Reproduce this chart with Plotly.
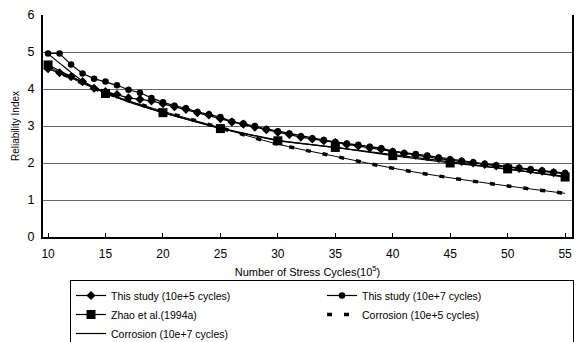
import plotly.graph_objects as go

x_study = list(range(10, 56))
study_1e5 = [4.55, 4.44, 4.33, 4.20, 4.02, 3.93, 3.85, 3.76, 3.72, 3.68,
             3.60, 3.52, 3.45, 3.36, 3.30, 3.20, 3.11, 3.05, 2.97, 2.90,
             2.83, 2.77, 2.70, 2.65, 2.60, 2.55, 2.50, 2.46, 2.41, 2.37,
             2.30, 2.25, 2.21, 2.17, 2.12, 2.08, 2.04, 2.00, 1.96, 1.92,
             1.88, 1.85, 1.81, 1.78, 1.74, 1.71]
study_1e7 = [4.96, 4.96, 4.66, 4.42, 4.28, 4.20, 4.10, 3.98, 3.90, 3.76,
             3.64, 3.55, 3.48, 3.38, 3.32, 3.24, 3.12, 3.07, 3.00, 2.92,
             2.86, 2.80, 2.72, 2.67, 2.62, 2.57, 2.53, 2.49, 2.44, 2.40,
             2.32, 2.27, 2.24, 2.20, 2.15, 2.10, 2.06, 2.02, 1.98, 1.94,
             1.90, 1.87, 1.83, 1.80, 1.76, 1.73]

x_zhao = [10, 15, 20, 25, 30, 35, 40, 45, 50, 55]
zhao = [4.65, 3.88, 3.36, 2.93, 2.60, 2.42, 2.20, 2.00, 1.84, 1.62]

x_corr = [10, 11, 12, 13, 14, 15, 17, 20, 25, 30, 35, 40, 45, 50, 55]
corr_1e5 = [4.62, 4.45, 4.30, 4.15, 4.02, 3.90, 3.68, 3.40, 2.95, 2.51, 2.18, 1.86, 1.60, 1.38, 1.18]
corr_1e7 = [4.95, 4.70, 4.45, 4.22, 4.05, 3.90, 3.65, 3.36, 2.95, 2.62, 2.42, 2.23, 2.03, 1.83, 1.64]

x_ticks = [10, 15, 20, 25, 30, 35, 40, 45, 50, 55]
y_ticks = [0, 1, 2, 3, 4, 5, 6]

fig = go.Figure()
fig.add_trace(go.Scatter(x=x_study, y=study_1e5, mode="lines+markers",
                         name="This study (10e+5 cycles)",
                         line=dict(color="black", width=1.2),
                         marker=dict(symbol="diamond", size=7, color="black")))
fig.add_trace(go.Scatter(x=x_study, y=study_1e7, mode="lines+markers",
                         name="This study (10e+7 cycles)",
                         line=dict(color="black", width=1.2),
                         marker=dict(symbol="circle", size=6.5, color="black")))
fig.add_trace(go.Scatter(x=x_zhao, y=zhao, mode="lines+markers",
                         name="Zhao et al.(1994a)",
                         line=dict(color="black", width=1.2),
                         marker=dict(symbol="square", size=9, color="black")))
fig.add_trace(go.Scatter(x=x_corr, y=corr_1e5, mode="lines", showlegend=False,
                         line=dict(color="black", width=1, shape="spline"),
                         hoverinfo="skip"))
fig.add_trace(go.Scatter(x=x_corr, y=corr_1e5, mode="lines",
                         name="Corrosion (10e+5 cycles)",
                         line=dict(color="black", width=3.5, dash="5px,12px", shape="spline")))
fig.add_trace(go.Scatter(x=x_corr, y=corr_1e7, mode="lines",
                         name="Corrosion (10e+7 cycles)",
                         line=dict(color="black", width=1.2, shape="spline")))

fig.update_layout(
    width=579, height=342,
    margin=dict(l=43, r=7, t=15, b=105),
    paper_bgcolor="white", plot_bgcolor="white",
    font=dict(family="Arial, Liberation Sans, sans-serif", size=11, color="black"),
    legend=dict(orientation="h", xref="container", yref="container",
                x=70/579, y=(342-280)/342, xanchor="left", yanchor="top",
                bordercolor="black", borderwidth=1, bgcolor="white",
                entrywidth=206, font=dict(size=10.5, family="Arial, Liberation Sans, sans-serif"),
                tracegroupgap=0),
    xaxis=dict(range=[9.56, 55.6], tickvals=x_ticks, showgrid=False, automargin=False,
               showline=True, linecolor="black", linewidth=2,
               ticks="inside", ticklen=4, tickcolor="black", ticklabelstandoff=5,
               tickfont=dict(size=12), zeroline=False,
               title=dict(text="Number of Stress Cycles(10<sup>5</sup>)", font=dict(size=11), standoff=8)),
    yaxis=dict(range=[0, 6], tickvals=y_ticks, showgrid=True, gridcolor="#666666", gridwidth=1,
               showline=True, linecolor="black", linewidth=2, mirror=True, automargin=False,
               ticks="", tickfont=dict(size=12.5), zeroline=False, ticklabelstandoff=4,
               title=dict(text="Reliability Index", font=dict(size=10), standoff=6)),
)
fig.write_html("out.html", config={"displayModeBar": False},
               post_script="document.body.style.margin='0';document.body.style.overflow='hidden';")
